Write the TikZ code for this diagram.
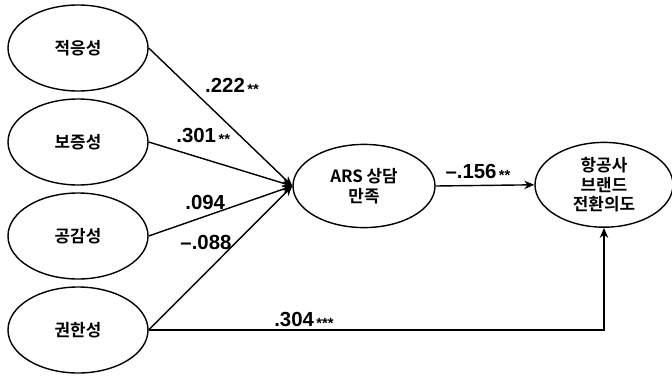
\documentclass[tikz,border=0pt]{standalone}
\usepackage{fontspec}
\setmainfont{Liberation Sans}
\newfontfamily\kr{Noto Sans CJK KR}[BoldFont={Noto Sans CJK KR Bold}]
\usetikzlibrary{shapes.geometric, arrows.meta}

\newcommand{\sigstars}[1]{{\fontsize{10.5}{10}\selectfont\,\raisebox{-1.5pt}{#1}}}

\begin{document}
\begin{tikzpicture}[
    factor/.style={ellipse, draw, line width=1pt, minimum width=3.5cm, minimum height=2.15cm,
        inner sep=0pt, align=center, font=\kr\bfseries\fontsize{12}{14}\selectfont},
    link/.style={-{Stealth[length=2.5mm, width=2.1mm]}, line width=1pt},
    coef/.style={inner sep=1pt, font=\bfseries\fontsize{14.5}{16}\selectfont}
]
    \useasboundingbox (0,0) rectangle (16.8,9.4);

    % Service quality factors
    \node[factor] (adapt)  at (1.95, 8.2)  {적응성};
    \node[factor] (assure) at (1.95, 5.85) {보증성};
    \node[factor] (empath) at (1.95, 3.5)  {공감성};
    \node[factor] (author) at (1.95, 1.15) {권한성};

    % Mediator and outcome
    \node[factor, minimum width=3.55cm, minimum height=2.08cm] (satis) at (9.1, 4.75)
        {ARS {\kr 상담}\\{\kr 만족}};
    \node[factor, minimum width=3.45cm, minimum height=2.12cm] (switch) at (15.1, 4.78)
        {항공사\\브랜드\\전환의도};

    % Paths to satisfaction
    \draw[link] (adapt.east)  -- (satis.west);
    \draw[link] (assure.east) -- (satis.west);
    \draw[link] (empath.east) -- (satis.west);
    \draw[link] (author.east) -- (satis.west);

    % Paths to switching intention
    \draw[link] (satis.east) -- (switch.west);
    \draw[link] (author.east) -| (switch.south);

    % Coefficients
    \node[coef] (c1) at (5.8, 7.25)  {.222\sigstars{**}};
    \node[coef] (c2) at (5.08, 6.0)  {.301\sigstars{**}};
    \node[coef] (c3) at (5.13, 4.33) {.094};
    \node[coef] (c4) at (5.15, 3.33) {–.088};
    \node[coef] (c5) at (7.6, 1.4)   {.304\sigstars{***}};
    \node[coef] (c6) at (11.95, 5.1) {–.156\sigstars{**}};

\end{tikzpicture}
\end{document}
